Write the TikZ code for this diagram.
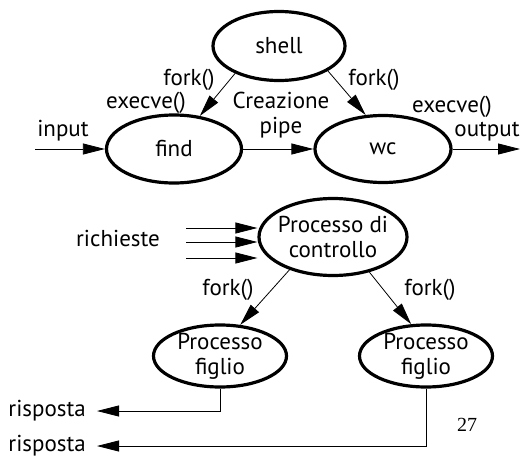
\documentclass[tikz,border=0pt]{standalone}
\usepackage{fontspec}
\setmainfont{PT Sans}
\newfontfamily\numfont{Liberation Serif}
\usetikzlibrary{arrows.meta,shapes.geometric,positioning,calc}

\begin{document}
\begin{tikzpicture}[x=1pt,y=-1pt,
  font=\fontsize{23}{25}\selectfont,
  proc/.style={draw, ellipse, line width=3.2pt, inner sep=0pt},
  conn/.style={line width=0.8pt, -{Triangle[length=22pt,width=11pt]}},
  txt/.style={inner sep=0pt, align=center}]
\useasboundingbox (0,0) rectangle (525,463);
\node[proc, minimum width=132pt, minimum height=69pt] (shell) at (279,46) {shell};
\node[proc, minimum width=135pt, minimum height=68pt] (find) at (174,149) {find};
\node[proc, minimum width=136pt, minimum height=67pt] (wc) at (383,149) {wc};
\coordinate (inp) at (35,149);
\coordinate (outp) at (520,149);
\draw[conn] (inp) -- (find);
\draw[conn] (find) -- (wc);
\draw[conn] (wc) -- (outp);
\draw[conn] (shell.212) -- (find.52);
\draw[conn] (shell.333) -- (wc.117);
\node[txt] (input) at (63,131) {input};
\node[txt] (exfind) at (146,103) {execve()};
\node[txt] (forkfind) at (189,80) {fork()};
\node[txt] (forkwc) at (374,80) {fork()};
\node[txt] (pipe) at (281,115) {Creazione\\pipe};
\node[txt] (exwc) at (452,107) {execve()};
\node[txt] (output) at (487,132) {output};

\node[proc, minimum width=148pt, minimum height=77pt,
  label={[txt]center:Processo di\\controllo}] (ctrl) at (333,237) {};
\node[proc, minimum width=133pt, minimum height=62pt,
  label={[txt]center:Processo\\figlio}] (fig1) at (220,356) {};
\node[proc, minimum width=133pt, minimum height=62pt,
  label={[txt]center:Processo\\figlio}] (fig2) at (426,356) {};
\foreach \y [count=\i] in {228,242,258} {
  \coordinate (req\i) at (186,\y);
  \draw[conn] (req\i) -- (req\i -| ctrl.west);
}
\node[txt] (richieste) at (118,238) {richieste};
\draw[conn] (ctrl.217) -- (fig1.57);
\draw[conn] (ctrl.316) -- (fig2.115);
\node[txt] (forkf1) at (228,290) {fork()};
\node[txt] (forkf2) at (430,290) {fork()};
\node[txt, anchor=east, inner xsep=11pt] (risp1) at (97,411) {risposta};
\node[txt, anchor=east, inner xsep=11pt] (risp2) at (97,446) {risposta};
\draw[conn] (fig1.south) |- (risp1);
\draw[conn] (fig2.south) |- (risp2);
\node[txt, font=\numfont\fontsize{20}{24}\selectfont] (page) at (467,425) {27};
\end{tikzpicture}
\end{document}
